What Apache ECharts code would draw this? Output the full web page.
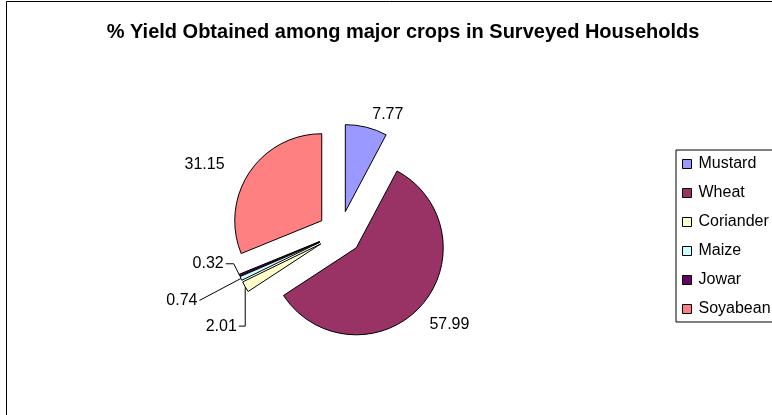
<!DOCTYPE html>
<html>
<head>
<meta charset="utf-8">
<script src="https://cdn.jsdelivr.net/npm/echarts@6/dist/echarts.min.js"></script>
<style>
  html, body { margin: 0; padding: 0; background: #ffffff; }
  #chart { width: 772px; height: 415px; }
</style>
</head>
<body>
<div id="chart"></div>
<script>
// Crop yield shares (%)
const crops = ['Mustard', 'Wheat', 'Coriander', 'Maize', 'Jowar', 'Soyabean'];
const yieldShare = [7.77, 57.99, 2.01, 0.74, 0.32, 31.15];
const sliceColors = ['#9999FF', '#993366', '#FFFFCC', '#CCFFFF', '#660066', '#FF8080'];
const titleText = '% Yield Obtained among major crops in Surveyed Households';

// slices too thin for an inline label get a leader line
const smallSlices = ['Coriander', 'Maize', 'Jowar'];

// fine nudges of the value labels away from their automatic spots
const labelNudge = {
  Mustard:   [-12, -1],
  Wheat:     [-15, 10],
  Coriander: [17, 8],
  Maize:     [-18, 2],
  Jowar:     [11, -16],
  Soyabean:  [0, -1]
};

// leader line shape per small slice: elbow down, straight, or short tick then slant
const leaderStyle = { Coriander: 'elbow', Maize: 'straight', Jowar: 'tick' };

const FONT = 'Arial, "Liberation Sans", sans-serif';

const pieData = crops.map((name, i) => ({
  name: name,
  value: yieldShare[i],
  selected: true,
  itemStyle: { color: sliceColors[i] },
  labelLine: { show: smallSlices.includes(name) }
}));

function layoutLabel(params) {
  const name = crops[params.dataIndex];
  const nudge = labelNudge[name] || [0, 0];
  const out = { dx: nudge[0], dy: nudge[1] };
  const pts = params.labelLinePoints;
  const style = leaderStyle[name];
  if (style && pts && pts.length) {
    const r = params.labelRect;
    const right = r.x + r.width + nudge[0] + 2;
    const midY = r.y + r.height / 2 + nudge[1];
    const anchor = pts[0];
    if (style === 'elbow') {
      out.labelLinePoints = [anchor.slice(), [anchor[0], midY], [right, midY]];
    } else if (style === 'straight') {
      out.labelLinePoints = [anchor.slice(), [right, midY], [right, midY]];
    } else {
      out.labelLinePoints = [anchor.slice(), [right + 8, midY], [right, midY]];
    }
  }
  return out;
}

const chart = echarts.init(document.getElementById('chart'), null, { renderer: 'canvas' });

chart.setOption({
  backgroundColor: '#ffffff',
  animation: false,
  graphic: [{
    type: 'rect',
    shape: { x: 6.5, y: 1.5, width: 900, height: 600 },
    style: { fill: 'none', stroke: '#000', lineWidth: 1 },
    silent: true,
    z: 100
  }],
  title: {
    text: titleText,
    left: 398,
    top: 17,
    textAlign: 'center',
    textStyle: { fontFamily: FONT, fontSize: 20, fontWeight: 'bold', color: '#000' }
  },
  legend: {
    orient: 'vertical',
    left: 676,
    top: 150,
    padding: [6, 30, 5, 6],
    itemWidth: 9,
    itemHeight: 9,
    itemGap: 13,
    icon: 'rect',
    borderColor: '#000',
    borderWidth: 1,
    selectedMode: false,
    data: crops,
    itemStyle: { borderColor: '#000', borderWidth: 1 },
    textStyle: { fontFamily: FONT, fontSize: 16, lineHeight: 16, color: '#000', padding: [0, 0, 0, 2] }
  },
  series: [{
    type: 'pie',
    center: [340, 233],
    radius: [0, 87],
    startAngle: 90,
    clockwise: true,
    selectedMode: 'multiple',
    selectedOffset: 22,
    avoidLabelOverlap: true,
    itemStyle: { borderColor: '#000', borderWidth: 1 },
    select: { itemStyle: { borderColor: '#000', borderWidth: 1 } },
    emphasis: { disabled: true },
    label: {
      show: true,
      position: 'outside',
      formatter: p => p.value.toFixed(2),
      fontFamily: FONT,
      fontSize: 16,
      color: '#000'
    },
    labelLine: {
      show: false,
      length: 12,
      length2: 10,
      lineStyle: { color: '#000', width: 1 }
    },
    labelLayout: layoutLabel,
    data: pieData
  }]
});
</script>
</body>
</html>
